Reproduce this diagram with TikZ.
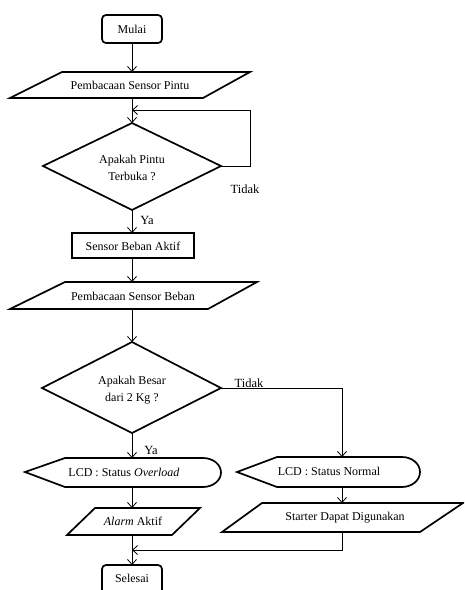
\documentclass[tikz,border=0pt]{standalone}
\usepackage{fontspec}
\setmainfont{Liberation Serif}
\usetikzlibrary{arrows.meta}
\begin{document}
\begin{tikzpicture}[x=1pt,y=-1pt,
  shape line/.style={draw=black,line width=1.7pt,line join=miter},
  conn/.style={draw=black,line width=0.8pt,-{Straight Barb[length=5pt,width=9pt]}},
  txt/.style={font=\fontsize{12}{17}\selectfont,align=center,inner sep=0pt},
  lbl/.style={font=\fontsize{12.5}{14}\selectfont,inner sep=0pt}]
\useasboundingbox (0,0) rectangle (464,590);
\clip (0,0) rectangle (464,590);
% Mulai
\draw[shape line,rounded corners=4pt] (102,15) rectangle (162,43);
\node[txt] (mulai) at (132,29) {Mulai};
\coordinate (mulaiB) at (132,43);
% Parallelogram 1
\draw[shape line] (62,72) -- (250,72) -- (203,98) -- (10,98) -- cycle;
\node[txt] (p1) at (130,85) {Pembacaan Sensor Pintu};
\coordinate (p1T) at (132,72);
\coordinate (p1B) at (132,98);
% Diamond 1
\draw[shape line] (132,123) -- (221,166) -- (132,210) -- (43,166) -- cycle;
\node[txt] (d1) at (132,168) {Apakah Pintu\\Terbuka ?};
\coordinate (d1T) at (132,123);
\coordinate (d1R) at (221,166);
\coordinate (d1B) at (132,210);
\coordinate (loopA) at (250,166);
\coordinate (loopB) at (250,110);
\coordinate (loopC) at (132,110);
\node[lbl] (tidak1) at (245,189) {Tidak};
% Rect
\draw[shape line] (72,233) rectangle (194,258);
\node[txt] (sba) at (133,246) {Sensor Beban Aktif};
\coordinate (sbaT) at (132,233);
\coordinate (sbaB) at (132,258);
\node[lbl] (ya1) at (147,220) {Ya};
% Parallelogram 2
\draw[shape line] (65,282) -- (257,282) -- (208,309) -- (10,309) -- cycle;
\node[txt] (p2) at (133,296) {Pembacaan Sensor Beban};
\coordinate (p2T) at (132,282);
\coordinate (p2B) at (132,309);
% Diamond 2
\draw[shape line] (132,342) -- (221,388) -- (132,433) -- (42,388) -- cycle;
\node[txt] (d2) at (132,390) {Apakah Besar\\dari 2 Kg ?};
\coordinate (d2T) at (132,342);
\coordinate (d2R) at (221,388);
\coordinate (d2B) at (132,433);
\coordinate (rt) at (342,388);
\node[lbl] (tidak2) at (249,383) {Tidak};
\node[lbl] (ya2) at (151,450) {Ya};
% LCD overload
\draw[shape line] (25,472) -- (65,458) -- (203,458) arc[start angle=90,end angle=-90,x radius=18pt,y radius=14.5pt] -- (65,487) -- cycle;
\node[txt] (lcd1) at (124,472) {LCD : Status \textit{Overload}};
\coordinate (lcd1T) at (132,458);
\coordinate (lcd1B) at (132,487);
% LCD normal
\draw[shape line] (237,472) -- (277,457) -- (402,457) arc[start angle=90,end angle=-90,x radius=18pt,y radius=15pt] -- (277,487) -- cycle;
\node[txt] (lcd2) at (329,471) {LCD : Status Normal};
\coordinate (lcd2T) at (342,457);
\coordinate (lcd2B) at (342,487);
% Alarm
\draw[shape line] (95,508) -- (200,508) -- (172,535) -- (67,535) -- cycle;
\node[txt] (alarm) at (133,521) {\textit{Alarm} Aktif};
\coordinate (alarmT) at (132,508);
\coordinate (alarmB) at (132,535);
% Starter
\draw[shape line] (262,503) -- (463,503) -- (420,532) -- (222,532) -- cycle;
\node[txt] (starter) at (345,518) {Starter Dapat Digunakan};
\coordinate (starterT) at (342,503);
\coordinate (starterB) at (342,532);
\coordinate (sb2) at (342,550);
\coordinate (join) at (132,550);
% Selesai
\draw[shape line,rounded corners=4pt] (102,565) rectangle (162,594);
\node[txt] (selesai) at (132,578) {Selesai};
\coordinate (selesaiT) at (132,565);
% Connectors
\draw[conn] (mulaiB) -- (p1T);
\draw[conn] (p1B) -- (d1T);
\draw[conn] (d1R) -- (loopA) -- (loopB) -- (loopC);
\draw[conn] (d1B) -- (sbaT);
\draw[conn] (sbaB) -- (p2T);
\draw[conn] (p2B) -- (d2T);
\draw[conn] (d2R) -- (rt) -- (lcd2T);
\draw[conn] (d2B) -- (lcd1T);
\draw[conn] (lcd1B) -- (alarmT);
\draw[conn] (lcd2B) -- (starterT);
\draw[conn] (starterB) -- (sb2) -- (join);
\draw[conn] (alarmB) -- (selesaiT);
\end{tikzpicture}
\end{document}
